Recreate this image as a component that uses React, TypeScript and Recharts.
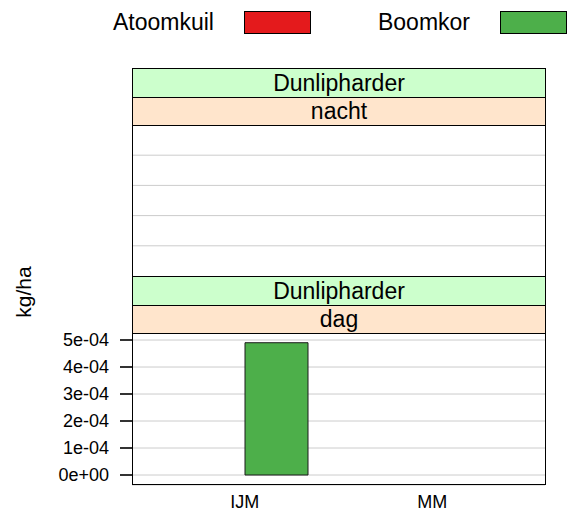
import { BarChart, Bar, XAxis, YAxis, CartesianGrid, ReferenceLine } from "recharts";

const stations = ["IJM", "MM"];
const gears = ["Atoomkuil", "Boomkor"];
const gearColors = ["#E41A1C", "#4DAF4A"];
const species = "Dunlipharder";

// kg/ha per station (IJM, MM)
const nachtAtoomkuil: (number | null)[] = [null, null];
const nachtBoomkor: (number | null)[] = [null, null];
const dagAtoomkuil: (number | null)[] = [null, null];
const dagBoomkor: (number | null)[] = [4.9e-4, null];

const dagTicks = [0, 1e-4, 2e-4, 3e-4, 4e-4, 5e-4];
const nachtTicks = [0.2, 0.4, 0.6, 0.8];

const nachtData = stations.map((s, i) => ({
  station: s,
  Atoomkuil: nachtAtoomkuil[i],
  Boomkor: nachtBoomkor[i],
}));
const dagData = stations.map((s, i) => ({
  station: s,
  Atoomkuil: dagAtoomkuil[i],
  Boomkor: dagBoomkor[i],
}));

const FONT = "'Liberation Sans', Arial, Helvetica, sans-serif";

function sci(v: number) {
  if (v === 0) return "0e+00";
  const [m, e] = v.toExponential(0).split("e");
  return `${m}e${e[0]}${e.slice(1).padStart(2, "0")}`;
}

function Strip({ top, height, bg, text }: { top: number; height: number; bg: string; text: string }) {
  return (
    <div
      style={{
        position: "absolute",
        left: 132,
        top,
        width: 414,
        height,
        boxSizing: "border-box",
        border: "1px solid #000",
        background: bg,
        fontSize: 23,
        lineHeight: `${height - 2}px`,
        textAlign: "center",
        color: "#000",
      }}
    >
      {text}
    </div>
  );
}

function Box({ top, height }: { top: number; height: number }) {
  return (
    <div
      style={{
        position: "absolute",
        left: 132,
        top,
        width: 414,
        height,
        boxSizing: "border-box",
        border: "1px solid #000",
        pointerEvents: "none",
      }}
    />
  );
}

export default function App() {
  return (
    <div
      style={{
        position: "absolute",
        left: 0,
        top: 0,
        width: 568,
        height: 513,
        background: "#fff",
        fontFamily: FONT,
        overflow: "hidden",
      }}
    >
      {/* legend */}
      <div style={{ position: "absolute", top: 11, left: 113, display: "flex", alignItems: "center" }}>
        {gears.map((g, i) => (
          <div key={g} style={{ display: "flex", alignItems: "center", marginLeft: i ? 67 : 0 }}>
            <span style={{ fontSize: 23, lineHeight: "23px" }}>{g}</span>
            <span
              style={{
                display: "inline-block",
                marginLeft: 30,
                width: 67,
                height: 23,
                boxSizing: "border-box",
                border: "1px solid #000",
                background: gearColors[i],
              }}
            />
          </div>
        ))}
      </div>

      {/* y label */}
      <div
        style={{
          position: "absolute",
          left: 24,
          top: 292,
          transform: "translate(-50%, -50%) rotate(-90deg)",
          fontSize: 21,
          whiteSpace: "nowrap",
        }}
      >
        kg/ha
      </div>

      {/* dag panel */}
      <div style={{ position: "absolute", left: 0, top: 0 }}>
        <BarChart width={568} height={513} data={dagData} margin={{ top: 333, right: 23, bottom: 0, left: 0 }} barGap={0}>
          <CartesianGrid vertical={false} stroke="#cccccc" />
          <XAxis
            dataKey="station"
            height={28}
            padding={{ left: 19, right: 19 }}
            axisLine={false}
            tickLine={false}
            tickSize={4}
            tickMargin={6}
            tick={{ fill: "#000", fontSize: 18 }}
          />
          <YAxis
            width={132}
            type="number"
            domain={[-0.37e-4, 5.26e-4]}
            ticks={dagTicks}
            tickFormatter={sci}
            axisLine={false}
            tickLine={{ stroke: "#333", strokeWidth: 2 }}
            tickSize={12}
            tickMargin={11}
            tick={{ fill: "#000", fontSize: 18 }}
            allowDataOverflow
          />
          {gears.map((g, i) => (
            <Bar key={g} dataKey={g} fill={gearColors[i]} stroke="#1a1a1a" barSize={63} isAnimationActive={false} />
          ))}
        </BarChart>
      </div>

      {/* nacht panel (no catches) */}
      <div style={{ position: "absolute", left: 0, top: 0 }}>
        <BarChart width={568} height={276} data={nachtData} margin={{ top: 125, right: 23, bottom: 0, left: 132 }} barGap={0}>
          <XAxis dataKey="station" hide padding={{ left: 19, right: 19 }} />
          <YAxis hide type="number" domain={[0, 1]} ticks={nachtTicks} allowDataOverflow />
          {nachtTicks.map((t) => (
            <ReferenceLine key={t} y={t} stroke="#cccccc" ifOverflow="visible" />
          ))}
          {gears.map((g, i) => (
            <Bar key={g} dataKey={g} fill={gearColors[i]} stroke="#1a1a1a" barSize={63} isAnimationActive={false} />
          ))}
        </BarChart>
      </div>

      {/* strips and panel borders */}
      <Strip top={68} height={30} bg="#CCFFCC" text={species} />
      <Strip top={97} height={29} bg="#FFE5CC" text="nacht" />
      <Box top={125} height={152} />
      <Strip top={276} height={30} bg="#CCFFCC" text={species} />
      <Strip top={305} height={29} bg="#FFE5CC" text="dag" />
      <Box top={333} height={152} />
    </div>
  );
}
